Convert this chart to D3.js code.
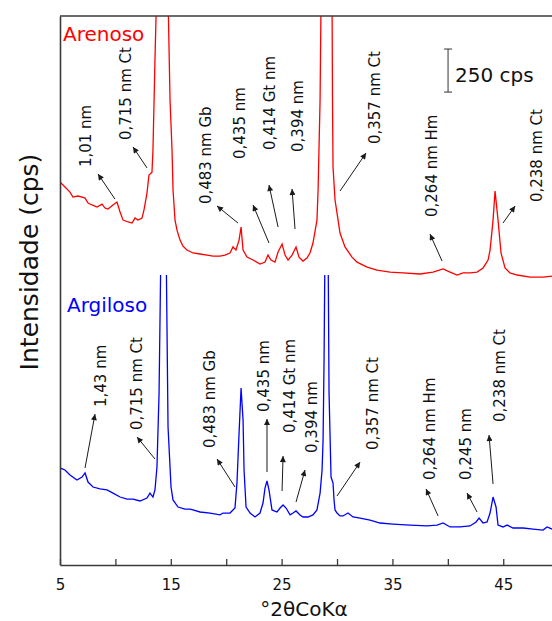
<!DOCTYPE html>
<html><head><meta charset="utf-8">
<script src="https://cdn.jsdelivr.net/npm/d3@7"></script>
<style>
body{margin:0;background:#fff}
text{font-family:"DejaVu Sans",Verdana,sans-serif}
</style>
</head><body>
<svg id="chart" width="552" height="621"></svg>
<script>
// ---- data (2θ in degrees CoKα, intensity in cps) ----
const twoThetaRed = [5.00,5.45,5.90,6.17,6.62,6.99,7.26,7.53,7.89,8.34,8.79,9.06,9.33,9.78,10.14,10.42,10.69,11.14,11.50,11.77,12.04,12.40,12.58,12.85,13.03,13.30,13.39,13.57,13.71,14.25,14.75,14.93,15.11,15.20,15.38,15.56,15.83,16.10,16.46,17.00,17.64,18.27,18.81,19.44,19.89,20.34,20.61,20.88,21.16,21.34,21.52,21.88,22.42,23.05,23.50,23.77,24.04,24.40,24.68,25.04,25.31,25.58,25.94,26.30,26.57,26.93,27.29,27.56,27.83,28.19,28.29,28.47,28.56,29.05,29.55,29.59,29.64,29.82,30.00,30.27,30.72,31.35,31.81,32.71,33.61,34.78,35.96,37.49,38.66,39.57,40.20,40.83,41.37,42.00,42.64,43.18,43.63,43.81,44.08,44.26,44.53,44.80,45.16,45.61,46.25,47.42,48.59,49.40];
const intensityRed = [2225,2196,2167,2138,2144,2138,2132,2103,2092,2080,2097,2074,2068,2092,2109,2051,2004,1993,1987,2016,2004,2016,2063,2161,2266,2283,2411,2934,3300,5200,3300,2702,2411,2179,2004,1946,1888,1853,1830,1813,1807,1801,1795,1795,1801,1813,1848,1830,1888,1964,1830,1789,1772,1749,1760,1801,1772,1760,1819,1865,1801,1772,1801,1848,1789,1766,1784,1813,1871,2004,2179,2702,3300,6000,3300,2702,2312,2121,2045,1929,1848,1789,1760,1731,1714,1702,1697,1691,1702,1720,1702,1685,1697,1697,1702,1726,1772,1830,2004,2173,2004,1813,1726,1697,1685,1673,1673,1679];

const twoThetaBlue = [5.00,5.45,5.90,6.53,6.99,7.26,7.53,7.98,8.61,9.24,9.78,10.42,11.05,11.59,12.22,12.85,13.12,13.39,13.57,13.75,13.94,14.12,14.34,14.57,14.75,15.02,15.20,15.65,16.28,16.73,17.00,17.64,18.54,19.44,19.71,20.34,20.61,20.79,20.97,21.16,21.34,21.52,21.61,21.79,22.15,22.60,23.05,23.32,23.50,23.68,23.86,24.13,24.58,24.86,25.13,25.40,25.76,26.03,26.30,26.66,26.93,27.38,27.83,28.19,28.47,28.65,28.74,28.83,28.92,29.05,29.19,29.28,29.46,29.64,29.73,29.82,30.00,30.27,30.54,30.99,31.44,32.08,32.98,33.88,35.05,36.59,38.12,39.03,39.57,40.20,41.10,42.00,42.55,42.82,43.18,43.54,43.81,44.08,44.35,44.53,44.98,45.34,45.88,46.79,47.69,48.59,48.95,49.40];
const intensityBlue = [564,552,523,494,511,535,482,453,442,436,418,395,383,383,372,389,418,395,436,569,999,1900,2800,1900,802,453,378,337,325,325,320,308,302,291,302,302,320,331,476,767,1028,842,552,337,302,279,302,360,447,488,436,320,308,331,349,331,291,302,314,291,279,279,291,320,418,552,726,1191,1900,3200,1900,999,511,476,378,320,302,285,285,302,279,273,261,244,238,232,227,232,244,221,221,227,250,273,244,250,302,395,337,232,221,232,215,215,209,203,221,209];

const seriesNames = ["Arenoso","Argiloso"];
const seriesColors = ["#ff0000","#0000ff"];
const blueClipLevel = 1685;          // cps level where Argiloso peaks are cut
const xMajorTicks = [5,15,25,35,45];
const xMinorTicks = [10,20,30,40];
const xTitle = "°2θCoKα";
const yTitle = "Intensidade (cps)";
const scaleBarValue = 250;            // cps
const scaleBarLabel = "250 cps";

// annotations: label, label anchor (2θ, cps), arrow tail (2θ, cps), arrow head (2θ, cps)
const labelsRed = ["1,01 nm","0,715 nm Ct","0,483 nm Gb","0,435 nm","0,414 Gt nm","0,394 nm","0,357 nm Ct","0,264 nm Hm","0,238 nm Ct"];
const labelPosRed = [[7.80,2312],[11.41,2469],[18.63,2097],[21.70,2359],[24.40,2411],[26.93,2400],[33.88,2446],[39.03,2022],[48.50,2109]];
const arrowRed = [[[9.96,2126],[8.43,2272]],[[12.85,2307],[11.59,2429]],[[21.06,1987],[19.17,2086]],[[23.86,1871],[22.42,2092]],[[24.68,1964],[23.86,2208]],[[26.21,1952],[25.94,2185]],[[30.27,2173],[32.62,2394]],[[39.48,1766],[38.39,1923]],[[44.98,1987],[46.07,2086]]];

const labelsBlue = ["1,43 nm","0,715 nm Ct","0,483 nm Gb","0,435 nm","0,414 Gt nm","0,394 nm","0,357 nm Ct","0,264 nm Hm","0,245 nm","0,238 nm Ct"];
const labelPosBlue = [[9.15,918],[12.40,784],[18.99,680],[23.86,889],[26.21,767],[28.19,651],[33.70,668],[38.84,494],[42.09,494],[45.16,831]];
const arrowBlue = [[[7.26,564],[8.16,877]],[[13.57,616],[11.95,744]],[[20.79,453],[19.17,616]],[[23.68,540],[23.68,848]],[[25.04,430],[25.13,633]],[[26.30,366],[27.11,552]],[[30.00,401],[32.08,598]],[[39.12,285],[38.03,442]],[[42.64,308],[41.73,418]],[[44.08,471],[43.72,755]]];

// ---- layout ----
const W = 552, H = 621;
const plotL = 60, plotR = 552, plotT = 16, plotB = 565;
const svg = d3.select("#chart");

const x = d3.scaleLinear().domain([5, 49.4]).range([plotL, plotR]);
const y = d3.scaleLinear().domain([0, 3190]).range([plotB, plotT]);

const defs = svg.append("defs");
defs.append("clipPath").attr("id","clipPlot").append("rect")
  .attr("x",plotL).attr("y",plotT).attr("width",plotR-plotL).attr("height",plotB-plotT);
defs.append("clipPath").attr("id","clipBlue").append("rect")
  .attr("x",plotL).attr("y",y(blueClipLevel)).attr("width",plotR-plotL).attr("height",plotB-y(blueClipLevel));
defs.append("marker").attr("id","arrowHead")
  .attr("viewBox","0 0 10 10").attr("refX",10).attr("refY",5)
  .attr("markerUnits","userSpaceOnUse").attr("markerWidth",8).attr("markerHeight",6)
  .attr("orient","auto")
  .append("path").attr("d","M0,0 L10,5 L0,10 Z").attr("fill","#1a1a1a");

const line = d3.line().x(d=>x(d[0])).y(d=>y(d[1]));
const redData = twoThetaRed.map((t,i)=>[t,intensityRed[i]]);
const blueData = twoThetaBlue.map((t,i)=>[t,intensityBlue[i]]);

svg.append("path").datum(redData).attr("d",line)
  .attr("fill","none").attr("stroke",seriesColors[0]).attr("stroke-width",1.3)
  .attr("clip-path","url(#clipPlot)");
svg.append("path").datum(blueData).attr("d",line)
  .attr("fill","none").attr("stroke",seriesColors[1]).attr("stroke-width",1.3)
  .attr("clip-path","url(#clipBlue)");

// axes
const axisColor = "#3a3a3a";
const xAxis = d3.axisBottom(x).tickValues(xMajorTicks).tickSizeInner(-6).tickSizeOuter(0).tickPadding(14).tickFormat(d3.format("d"));
const gx = svg.append("g").attr("transform",`translate(0,${plotB})`).call(xAxis);
gx.select(".domain").attr("stroke",axisColor).attr("stroke-width",1.6);
gx.selectAll(".tick line").attr("stroke",axisColor).attr("stroke-width",1.3);
gx.selectAll(".tick text").attr("font-size",15).attr("fill","#111").attr("font-family","DejaVu Sans");
const xAxisMinor = d3.axisBottom(x).tickValues(xMinorTicks).tickSizeInner(-6).tickSizeOuter(0).tickFormat("");
const gxm = svg.append("g").attr("transform",`translate(0,${plotB})`).call(xAxisMinor);
gxm.select(".domain").remove();
gxm.selectAll(".tick line").attr("stroke",axisColor).attr("stroke-width",1.3);

// left axis line (no ticks) and top frame line
const yAxis = d3.axisLeft(y).tickValues([]).tickSizeOuter(0);
const gy = svg.append("g").attr("transform",`translate(${plotL},0)`).call(yAxis);
gy.select(".domain").attr("stroke",axisColor).attr("stroke-width",1.6);
svg.append("line").attr("x1",plotL).attr("x2",plotR).attr("y1",plotT).attr("y2",plotT)
  .attr("stroke",axisColor).attr("stroke-width",1.6);

// titles
svg.append("text").attr("x",304).attr("y",616)
  .attr("text-anchor","middle").attr("font-size",20).attr("fill","#111").text(xTitle);
svg.append("text").attr("transform",`translate(38,${262}) rotate(-90)`)
  .attr("text-anchor","middle").attr("font-size",25).attr("fill","#111").text(yTitle);

// series labels
svg.append("text").attr("x",x(5.27)).attr("y",y(3044)).attr("font-size",20)
  .attr("fill",seriesColors[0]).text(seriesNames[0]);
svg.append("text").attr("x",x(5.63)).attr("y",y(1470)).attr("font-size",20)
  .attr("fill",seriesColors[1]).text(seriesNames[1]);

// scale bar
const sbX = x(40.02), sbTop = y(2998), sbBot = y(2998-scaleBarValue);
const sb = svg.append("g").attr("stroke","#333").attr("stroke-width",1);
sb.append("line").attr("x1",sbX).attr("x2",sbX).attr("y1",sbTop).attr("y2",sbBot);
sb.append("line").attr("x1",sbX-4).attr("x2",sbX+4).attr("y1",sbTop).attr("y2",sbTop);
sb.append("line").attr("x1",sbX-4).attr("x2",sbX+4).attr("y1",sbBot).attr("y2",sbBot);
svg.append("text").attr("x",x(40.65)).attr("y",y(2806)).attr("font-size",20).attr("fill","#111").text(scaleBarLabel);

// annotations
function annotate(labels, pos, arrows){
  const g = svg.append("g");
  labels.forEach((lab,i)=>{
    g.append("text")
      .attr("transform",`translate(${x(pos[i][0])},${y(pos[i][1])}) rotate(-90)`)
      .attr("font-size",15).attr("fill","#111").text(lab);
    const a = arrows[i];
    g.append("line")
      .attr("x1",x(a[0][0])).attr("y1",y(a[0][1]))
      .attr("x2",x(a[1][0])).attr("y2",y(a[1][1]))
      .attr("stroke","#1a1a1a").attr("stroke-width",1)
      .attr("marker-end","url(#arrowHead)");
  });
}
annotate(labelsRed, labelPosRed, arrowRed);
annotate(labelsBlue, labelPosBlue, arrowBlue);
</script>
</body></html>
